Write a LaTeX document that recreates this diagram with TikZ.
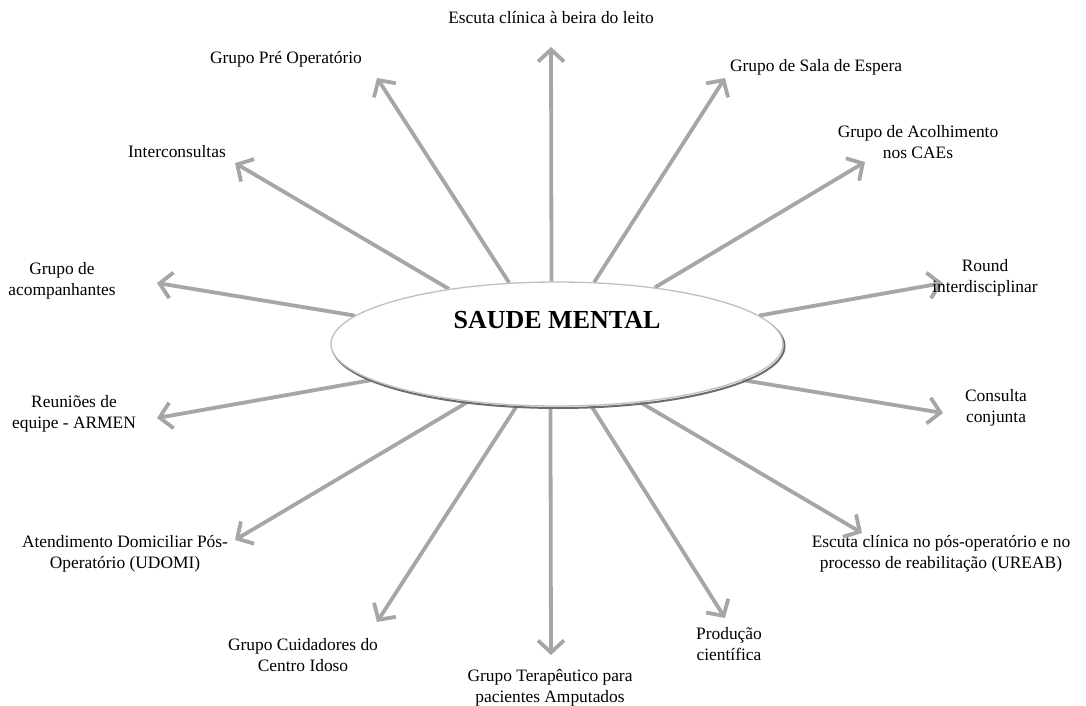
\documentclass[tikz,border=0pt]{standalone}
\usepackage{fontspec}
\setmainfont{Liberation Serif}
\usetikzlibrary{arrows.meta,shapes.geometric,backgrounds}
\definecolor{arrgray}{HTML}{A6A6A6}
\tikzset{
  lbl/.style={font=\fontsize{17.4}{21}\selectfont, align=center, inner sep=0pt, text=black},
  arr/.style={draw=arrgray, line width=3.8pt, -{Straight Barb[length=12pt,width=26pt]}},
}
\begin{document}
\begin{tikzpicture}[x=1pt,y=-1pt]
\useasboundingbox (0,0) rectangle (1086,706);
% central ellipse with bevel shadow
\draw[gray!85!black, line width=2pt] (558.5,346) ellipse [x radius=226, y radius=62];
\node[ellipse, fill=white, draw=gray!50, line width=1.3pt, minimum width=452pt, minimum height=124pt, inner sep=0pt] (c) at (557,344) {};
\node[font=\fontsize{26}{31}\selectfont\bfseries] (title) at (557,320) {SAUDE MENTAL};
% tips
\coordinate (t1) at (551,47);
\coordinate (t2) at (377,78);
\coordinate (t3) at (235,163);
\coordinate (t4) at (157,283);
\coordinate (t5) at (157,418);
\coordinate (t6) at (235,540);
\coordinate (t7) at (377,622);
\coordinate (t8) at (551,655);
\coordinate (t9) at (725,618);
\coordinate (t10) at (862,533);
\coordinate (t11) at (943,413);
\coordinate (t12) at (943,283);
\coordinate (t13) at (865,162);
\coordinate (t14) at (725,78);
% labels
\node[lbl] (n1) at (551,18) {Escuta clínica à beira do leito};
\node[lbl] (n2) at (286,59) {Grupo Pré Operatório};
\node[lbl] (n3) at (177,152) {Interconsultas};
\node[lbl] (n4) at (62,281) {Grupo de\\acompanhantes};
\node[lbl] (n5) at (74,414) {Reuniões de\\equipe - ARMEN};
\node[lbl] (n6) at (125,554) {Atendimento Domiciliar Pós-\\Operatório (UDOMI)};
\node[lbl] (n7) at (303,655) {Grupo Cuidadores do\\Centro Idoso};
\node[lbl] (n8) at (550,688) {Grupo Terapêutico para\\pacientes Amputados};
\node[lbl] (n9) at (729,644) {Produção\\científica};
\node[lbl] (n10) at (941,554) {Escuta clínica no pós-operatório e no\\processo de reabilitação (UREAB)};
\node[lbl] (n11) at (996,408) {Consulta\\conjunta};
\node[lbl] (n12) at (985,278) {Round\\interdisciplinar};
\node[lbl] (n13) at (918,142) {Grupo de Acolhimento\\nos CAEs};
\node[lbl] (n14) at (816,67) {Grupo de Sala de Espera};
% arrows
\begin{pgfonlayer}{background}
\draw[arr] (c.95.5) -- (t1);
\draw[arr] (c.128.9) -- (t2);
\draw[arr] (c.153) -- (t3);
\draw[arr] (c.172.5) -- (t4);
\draw[arr] (c.191.7) -- (t5);
\draw[arr] (c.213) -- (t6);
\draw[arr] (c.237.1) -- (t7);
\draw[arr] (c.264.5) -- (t8);
\draw[arr] (c.299) -- (t9);
\draw[arr] (c.325.7) -- (t10);
\draw[arr] (c.349.15) -- (t11);
\draw[arr] (c.8.33) -- (t12);
\draw[arr] (c.30.2) -- (t13);
\draw[arr] (c.59.9) -- (t14);
\end{pgfonlayer}
\end{tikzpicture}
\end{document}
